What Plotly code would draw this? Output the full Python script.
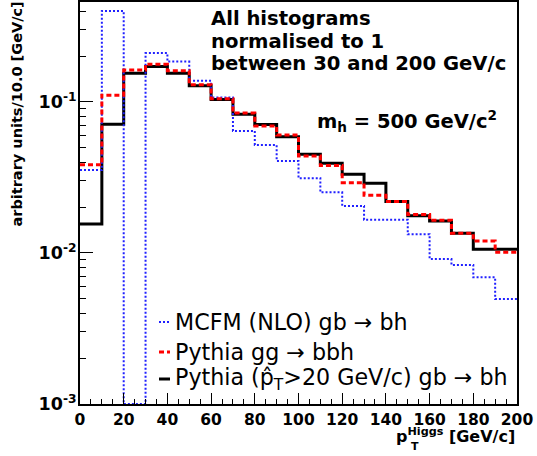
import numpy as np
import plotly.graph_objects as go

# ---- data ----
bin_edges = list(range(0, 210, 10))
series_names = ["MCFM (NLO) gb \u2192 bh",
                "Pythia gg \u2192 bbh",
                "Pythia (p\u0302<sub>T</sub>>20 GeV/c) gb \u2192 bh"]
mcfm = [0.0355, 0.401, 0.0, 0.211, 0.185, 0.138, 0.107, 0.0643, 0.0519, 0.0407,
        0.0313, 0.0252, 0.0205, 0.0166, 0.0166, 0.0133, 0.00912, 0.00833, 0.0069, 0.00496]
pythia_bbh = [0.0384, 0.111, 0.163, 0.178, 0.161, 0.130, 0.105, 0.0846, 0.0693, 0.0604,
              0.0439, 0.0379, 0.0292, 0.0241, 0.0219, 0.0180, 0.0165, 0.0135, 0.0120, 0.0101]
pythia_bh = [0.01556, 0.0711, 0.155, 0.172, 0.155, 0.128, 0.104, 0.083, 0.071, 0.0589,
             0.0451, 0.0393, 0.0332, 0.0290, 0.0219, 0.01766, 0.0163, 0.0135, 0.0106, 0.0106]
x_ticks = list(range(0, 220, 20))
y_tickvals = [1e-3, 1e-2, 1e-1]
y_ticktext = ["<b>10<sup>-3</sup></b>", "<b>10<sup>-2</sup></b>", "<b>10<sup>-1</sup></b>"]

Y_MIN = 1e-3
W, H = 537, 456
L, R, T, B = 80, 20, 2, 52
pw, ph = W - L - R, H - T - B

FONT = "DejaVu Sans"

def step(vals):
    v = [max(a, Y_MIN) for a in vals]
    return bin_edges, v + [v[-1]]

fig = go.Figure()
styles = {
    "bh": dict(color="black", width=3, dash="solid"),
    "mcfm": dict(color="#2020ff", width=2, dash="2px,2px"),
    "bbh": dict(color="#ff0000", width=3, dash="5px,3px"),
}
for key, vals in [("bh", pythia_bh), ("mcfm", mcfm), ("bbh", pythia_bbh)]:
    xs, ys = step(vals)
    fig.add_trace(go.Scatter(x=xs, y=ys, mode="lines", line_shape="hv",
                             line=styles[key], showlegend=False, hoverinfo="skip"))

def px_x(p):
    return (p - L) / pw

def px_y(p):
    return (H - B - p) / ph

annotations = []
# info text
for i, txt in enumerate(["All histograms", "normalised to 1", "between 30 and 200 GeV/c"]):
    annotations.append(dict(text="<b>%s</b>" % txt, xref="paper", yref="paper",
                            x=px_x(209), y=px_y(19 + 22.5 * i), xanchor="left", yanchor="middle",
                            showarrow=False, font=dict(family=FONT, size=19.6, color="black")))
annotations.append(dict(text="<b>m<sub>h</sub> = 500 GeV/c<sup>2</sup></b>", xref="paper", yref="paper",
                        x=px_x(315), y=px_y(121), xanchor="left", yanchor="middle",
                        showarrow=False, font=dict(family=FONT, size=19.5, color="black")))
# axis titles
annotations.append(dict(text="<b>arbitrary units/10.0 [GeV/c]</b>", xref="paper", yref="paper",
                        x=px_x(17), y=1 + 2 / ph, xanchor="center", yanchor="top", textangle=-90,
                        showarrow=False, font=dict(family=FONT, size=14.5, color="black")))
annotations.append(dict(text="<b>p<sup>Higgs</sup> [GeV/c]</b>", xref="paper", yref="paper",
                        x=1.0, y=px_y(435), xanchor="right", yanchor="middle",
                        showarrow=False, font=dict(family=FONT, size=16, color="black")))
annotations.append(dict(text="<b>T</b>", xref="paper", yref="paper",
                        x=px_x(409), y=px_y(446), xanchor="left", yanchor="middle",
                        showarrow=False, font=dict(family=FONT, size=11, color="black")))

# legend (manual, ROOT style)
leg_y = [322, 352, 379]
leg_styles = [styles["mcfm"], styles["bbh"], styles["bh"]]
shapes = []
for name, yy, st in zip(series_names, leg_y, leg_styles):
    annotations.append(dict(text=name, xref="paper", yref="paper", x=px_x(173), y=px_y(yy),
                            xanchor="left", yanchor="middle", showarrow=False,
                            font=dict(family=FONT, size=22.2, color="black")))
    shapes.append(dict(type="line", xref="paper", yref="paper", x0=px_x(159), x1=px_x(170),
                       y0=px_y(yy), y1=px_y(yy), line=dict(color=st["color"], width=st["width"], dash=st["dash"])))

fig.update_layout(
    width=W, height=H,
    margin=dict(l=L, r=R, t=T, b=B, autoexpand=False),
    paper_bgcolor="white", plot_bgcolor="white",
    annotations=annotations, shapes=shapes,
    showlegend=False,
    xaxis=dict(range=[0, 200], tickvals=x_ticks, ticks="inside", ticklen=11, tickwidth=1,
               tickcolor="black", showgrid=False, zeroline=False, automargin=False,
               showline=True, linecolor="black", linewidth=2, mirror=True,
               tickfont=dict(family=FONT, size=15.5, color="black", weight="bold"),
               minor=dict(dtick=5, ticks="inside", ticklen=5, tickcolor="black", showgrid=False)),
    yaxis=dict(type="log", range=[-3, -0.338], tickvals=y_tickvals, ticktext=y_ticktext,
               ticks="inside", ticklen=13, tickwidth=1, tickcolor="black",
               showgrid=False, zeroline=False, automargin=False, ticklabelstandoff=-2,
               showline=True, linecolor="black", linewidth=2, mirror=True,
               tickfont=dict(family=FONT, size=17.5, color="black", weight="bold"),
               minor=dict(dtick="D1", ticks="inside", ticklen=6, tickcolor="black", showgrid=False)),
)

fig.write_html("out.html", config={"displayModeBar": False},
               post_script="document.body.style.margin='0px';document.body.style.padding='0px';")
